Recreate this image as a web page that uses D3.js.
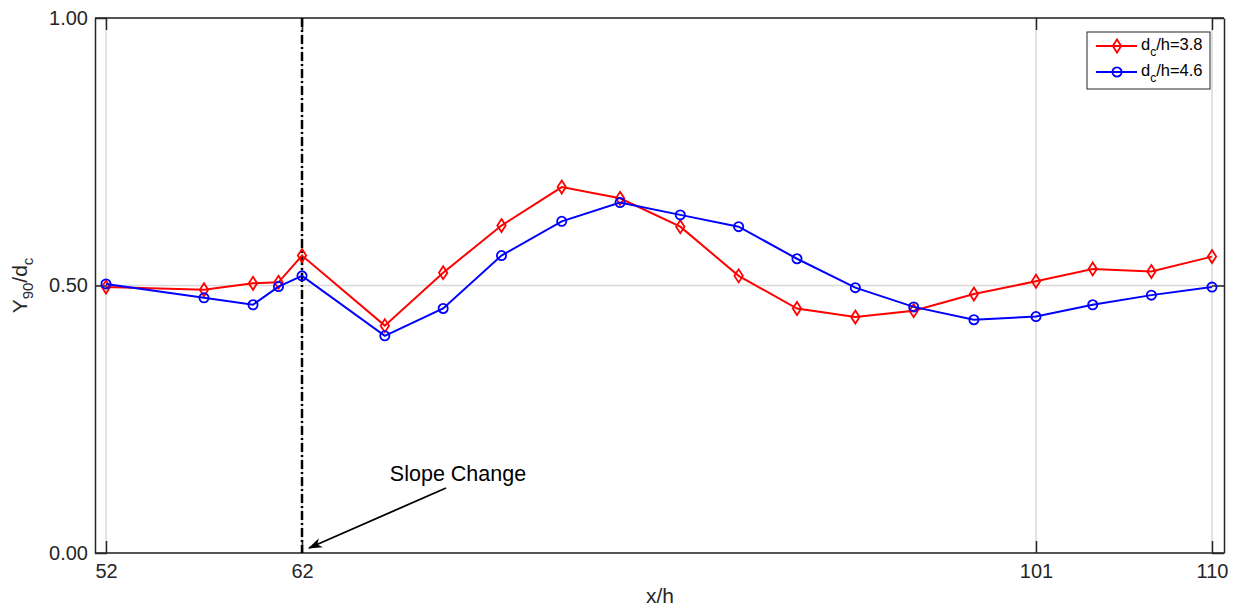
<!DOCTYPE html>
<html>
<head>
<meta charset="utf-8">
<script src="https://cdn.jsdelivr.net/npm/d3@7"></script>
<style>
  body { margin: 0; background: #fff; }
  text { font-family: "Liberation Sans", Arial, sans-serif; }
</style>
</head>
<body>
<div id="container"></div>
<script>
// données
const xTicks = [52, 62, 101, 110];
const yTicks = [0, 0.5, 1];
const xValues = [52, 57, 59.5, 60.8, 62, 66.4, 69.5, 72.6, 75.8, 78.9, 82.1, 85.2, 88.3, 91.4, 94.5, 97.7, 101, 103.9, 106.9, 110];
const red38 = [0.497, 0.492, 0.504, 0.506, 0.556, 0.425, 0.524, 0.612, 0.684, 0.663, 0.610, 0.518, 0.457, 0.441, 0.453, 0.484, 0.508, 0.531, 0.526, 0.554];
const blue46 = [0.503, 0.477, 0.464, 0.498, 0.518, 0.406, 0.457, 0.556, 0.620, 0.655, 0.632, 0.610, 0.550, 0.496, 0.460, 0.436, 0.442, 0.464, 0.482, 0.497];
const slopeChangeX = 62;

const width = 1238, height = 606;
const pLeft = 95, pRight = 1224, pTop = 18, pBottom = 553;

const svg = d3.select("#container").append("svg")
  .attr("width", width).attr("height", height);

// l'axe x n'est pas régulier entre les étiquettes : échelle par morceaux
const x = d3.scaleLinear().domain(xTicks).range([106, 302, 1036, 1212]);
const y = d3.scaleLinear().domain([0, 1]).range([pBottom, pTop]);

// grille
svg.append("g").selectAll("line").data(xTicks).join("line")
  .attr("x1", d => x(d)).attr("x2", d => x(d))
  .attr("y1", pTop).attr("y2", pBottom)
  .attr("stroke", "#d9d9d9").attr("stroke-width", 1.5);
svg.append("g").selectAll("line").data(yTicks).join("line")
  .attr("x1", pLeft).attr("x2", pRight)
  .attr("y1", d => y(d)).attr("y2", d => y(d))
  .attr("stroke", "#d9d9d9").attr("stroke-width", 1.5);

// axes (ticks vers l'intérieur, sur les quatre côtés)
const axisColor = "#262626";
function styleAxis(g) {
  g.attr("font-size", null).attr("font-family", null);
  g.selectAll("path").attr("stroke", axisColor).attr("stroke-width", 1.5);
  g.selectAll("line").attr("stroke", axisColor).attr("stroke-width", 1.5);
  g.selectAll("text").attr("fill", "#262626").style("font-size", "20px");
}
svg.append("g").attr("transform", `translate(0,${pBottom})`)
  .call(d3.axisBottom(x).tickValues(xTicks).tickFormat(d3.format("d")).tickSizeInner(-12).tickSizeOuter(0))
  .call(styleAxis)
  .call(g => g.select(".domain").attr("d", `M${pLeft},0H${pRight}`))
  .call(g => g.selectAll("text").attr("y", 11));
svg.append("g").attr("transform", `translate(0,${pTop})`)
  .call(d3.axisTop(x).tickValues(xTicks).tickFormat("").tickSizeInner(-12).tickSizeOuter(0))
  .call(styleAxis)
  .call(g => g.select(".domain").attr("d", `M${pLeft},0H${pRight}`));
svg.append("g").attr("transform", `translate(${pLeft},0)`)
  .call(d3.axisLeft(y).tickValues(yTicks).tickFormat(d3.format(".2f")).tickSizeInner(-12).tickSizeOuter(0))
  .call(styleAxis)
  .call(g => g.selectAll("text").attr("x", -7));
svg.append("g").attr("transform", `translate(${pRight},0)`)
  .call(d3.axisRight(y).tickValues(yTicks).tickFormat("").tickSizeInner(-12).tickSizeOuter(0))
  .call(styleAxis);

// ligne verticale "changement de pente"
svg.append("line")
  .attr("x1", x(slopeChangeX)).attr("x2", x(slopeChangeX))
  .attr("y1", pTop).attr("y2", pBottom)
  .attr("stroke", "#000").attr("stroke-width", 2.5)
  .attr("stroke-dasharray", "9,3,2,3");

// séries
const series = [
  { name: "3.8", values: red38, color: "#ff0000", marker: "diamond" },
  { name: "4.6", values: blue46, color: "#0000ff", marker: "circle" }
];
const line = d3.line().x(d => x(d[0])).y(d => y(d[1]));
const diamond = "M0,-6.5L4.2,0L0,6.5L-4.2,0Z";

function drawMarker(g, type, color) {
  if (type === "diamond") {
    g.append("path").attr("d", diamond)
      .attr("fill", "none").attr("stroke", color).attr("stroke-width", 1.8);
  } else {
    g.append("circle").attr("r", 4.6)
      .attr("fill", "none").attr("stroke", color).attr("stroke-width", 1.8);
  }
}

series.forEach(s => {
  const pts = xValues.map((v, i) => [v, s.values[i]]);
  svg.append("path").datum(pts)
    .attr("d", line)
    .attr("fill", "none").attr("stroke", s.color).attr("stroke-width", 2);
  svg.append("g").selectAll("g").data(pts).join("g")
    .attr("transform", d => `translate(${x(d[0])},${y(d[1])})`)
    .each(function () { drawMarker(d3.select(this), s.marker, s.color); });
});

// annotation
svg.append("defs").append("marker")
  .attr("id", "arrow").attr("viewBox", "0 0 14 10")
  .attr("refX", 13).attr("refY", 5)
  .attr("markerWidth", 14).attr("markerHeight", 10)
  .attr("markerUnits", "userSpaceOnUse")
  .attr("orient", "auto")
  .append("path").attr("d", "M0,0L14,5L0,10L4,5Z").attr("fill", "#000");
svg.append("line")
  .attr("x1", 446).attr("y1", 488).attr("x2", 309).attr("y2", 548)
  .attr("stroke", "#000").attr("stroke-width", 1.8)
  .attr("marker-end", "url(#arrow)");
svg.append("text")
  .attr("x", 458).attr("y", 481)
  .attr("text-anchor", "middle")
  .style("font-size", "21.5px")
  .text("Slope Change");

// titres des axes
svg.append("text")
  .attr("x", 660).attr("y", 603)
  .attr("text-anchor", "middle")
  .attr("fill", "#262626")
  .style("font-size", "21px")
  .text("x/h");

const yLab = svg.append("text")
  .attr("transform", `translate(27,${(pTop + pBottom) / 2}) rotate(-90)`)
  .attr("text-anchor", "middle")
  .attr("fill", "#262626")
  .style("font-size", "21px");
yLab.append("tspan").text("Y");
yLab.append("tspan").attr("dy", 6).style("font-size", "15px").text("90");
yLab.append("tspan").attr("dy", -6).text("/d");
yLab.append("tspan").attr("dy", 6).style("font-size", "15px").text("c");

// légende
const lg = svg.append("g").attr("transform", "translate(1087,32)");
lg.append("rect").attr("width", 123).attr("height", 57)
  .attr("fill", "#fff").attr("stroke", "#262626").attr("stroke-width", 1);
series.forEach((s, i) => {
  const cy = 14 + i * 26;
  const row = lg.append("g").attr("transform", `translate(0,${cy})`);
  row.append("line").attr("x1", 9).attr("x2", 50)
    .attr("stroke", s.color).attr("stroke-width", 2);
  const m = row.append("g").attr("transform", "translate(30,0)");
  drawMarker(m, s.marker, s.color);
  const t = row.append("text").attr("x", 54).attr("y", 4).style("font-size", "16.5px");
  t.append("tspan").text("d");
  t.append("tspan").attr("dy", 6).style("font-size", "12px").text("c");
  t.append("tspan").attr("dy", -6).text("/h=" + s.name);
});
</script>
</body>
</html>
